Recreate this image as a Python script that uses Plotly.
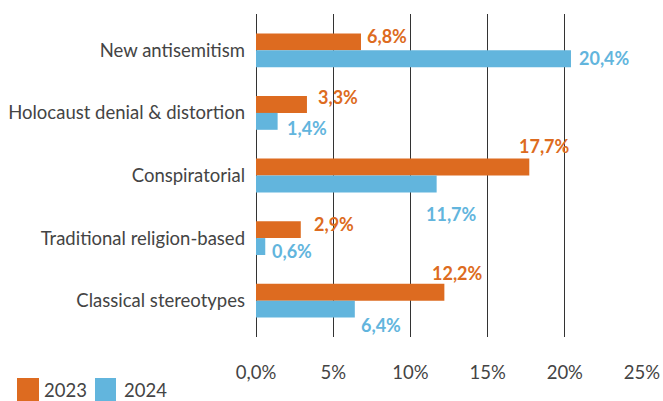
import plotly.graph_objects as go

categories = ["New antisemitism", "Holocaust denial & distortion", "Conspiratorial",
              "Traditional religion-based", "Classical stereotypes"]
values_2023 = [6.8, 3.3, 17.7, 2.9, 12.2]
values_2024 = [20.4, 1.4, 11.7, 0.6, 6.4]
series_names = ["2023", "2024"]
tick_vals = [0, 5, 10, 15, 20, 25]
tick_text = ["0,0%", "5%", "10%", "15%", "20%", "25%"]

ORANGE = "#DD6B20"
BLUE = "#62B5DD"
TEXT = "#444444"
FONT = "Lato"
FS = 18.5

W, H = 663, 401
ML, MR, MT, MB = 256, 21, 14, 64
PW, PH = W - ML - MR, H - MT - MB

fig = go.Figure()
fig.add_trace(go.Bar(y=categories, x=values_2023, orientation="h", name=series_names[0],
                     marker=dict(color=ORANGE, line=dict(width=0)), showlegend=False))
fig.add_trace(go.Bar(y=categories, x=values_2024, orientation="h", name=series_names[1],
                     marker=dict(color=BLUE, line=dict(width=0)), showlegend=False))

def fmt(v):
    return f"{v:.1f}".replace(".", ",") + "%"

# label offsets (pixels) relative to bar end / category centre
off_2023 = [(4, 14), (9, 16), (-12, 30), (11, 14), (-14, 28)]
off_2024 = [(6, -8), (7, -15), (-13, -38), (5, -13), (4, -24)]
anns = []
for cat, v, (dx, dy) in zip(categories, values_2023, off_2023):
    anns.append(dict(x=v, y=cat, text=fmt(v), showarrow=False, xanchor="left", yanchor="middle",
                     xshift=dx, yshift=dy, font=dict(family=FONT, size=18, color=ORANGE, weight="bold")))
for cat, v, (dx, dy) in zip(categories, values_2024, off_2024):
    anns.append(dict(x=v, y=cat, text=fmt(v), showarrow=False, xanchor="left", yanchor="middle",
                     xshift=dx, yshift=dy, font=dict(family=FONT, size=18, color=BLUE, weight="bold")))

def px_x(p):
    return (p - ML) / PW

def px_y(p):
    return 1 - (p - MT) / PH

# custom legend
shapes = []
for name, col, x0, x1, tx in [(series_names[0], ORANGE, 17, 39, 42), (series_names[1], BLUE, 95, 116, 122)]:
    shapes.append(dict(type="rect", xref="paper", yref="paper", x0=px_x(x0), x1=px_x(x1),
                       y0=px_y(410), y1=px_y(378), fillcolor=col, line=dict(width=0), layer="above"))
    anns.append(dict(xref="paper", yref="paper", x=px_x(tx), y=px_y(390), text=name, showarrow=False,
                     xanchor="left", yanchor="middle", font=dict(family=FONT, size=FS, color=TEXT)))

fig.update_layout(
    width=W, height=H,
    margin=dict(l=ML, r=MR, t=MT, b=MB, pad=0, autoexpand=False),
    paper_bgcolor="white", plot_bgcolor="white",
    barmode="group", bargap=0.46, bargroupgap=0,
    font=dict(family=FONT, size=FS, color=TEXT),
    annotations=anns, shapes=shapes,
    xaxis=dict(range=[0, 25], tickvals=tick_vals, ticktext=tick_text, showgrid=True,
               gridcolor="#333333", gridwidth=1, zeroline=True, zerolinecolor="#333333",
               zerolinewidth=1, showline=False, ticks="", ticklabelstandoff=22, automargin=False,
               tickfont=dict(family=FONT, size=FS, color=TEXT), fixedrange=True),
    yaxis=dict(categoryorder="array", categoryarray=categories, range=[4.58, -0.58],
               showgrid=False, zeroline=False, showline=False, ticks="", ticklabelstandoff=10,
               automargin=False,
               tickfont=dict(family=FONT, size=FS, color=TEXT), fixedrange=True),
)

fig.write_html("out.html", config={"displayModeBar": False},
               post_script="document.body.style.margin='0';document.body.style.overflow='hidden';")
